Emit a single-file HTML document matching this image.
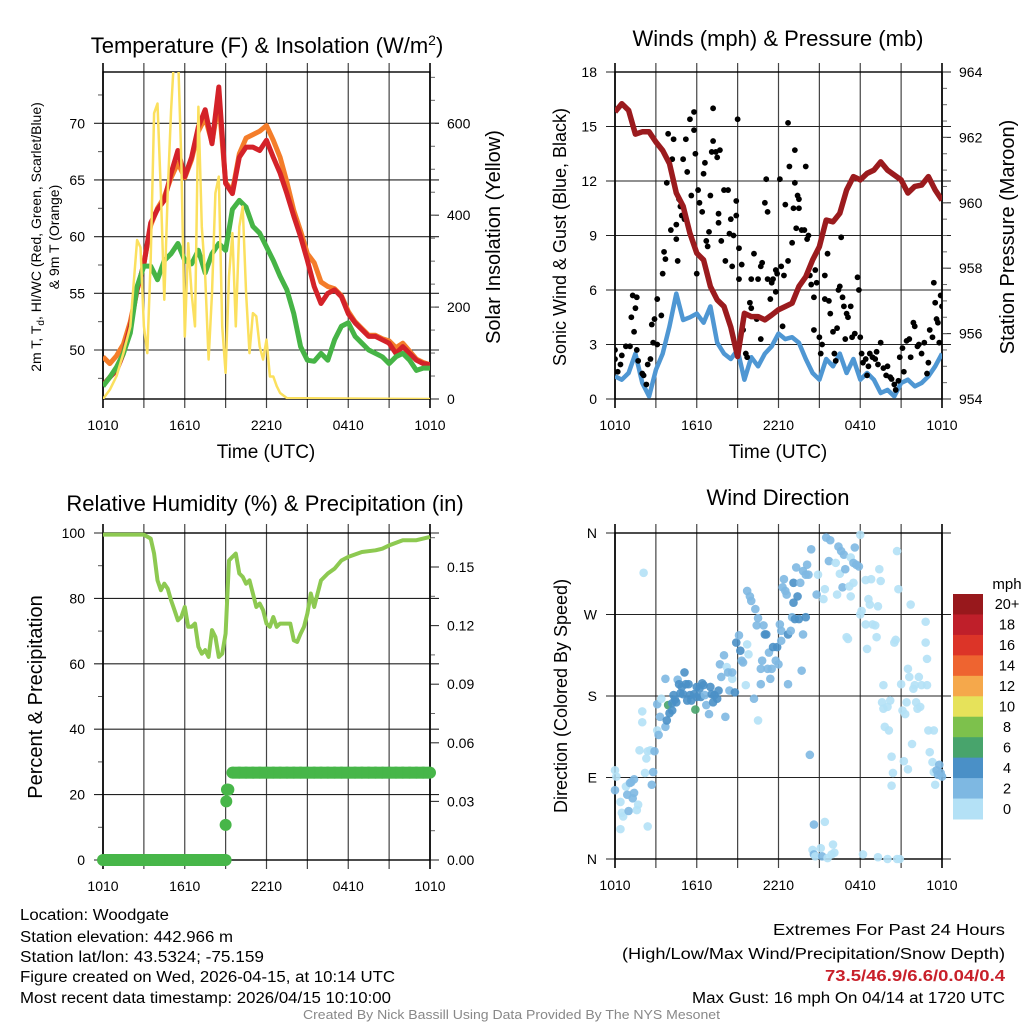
<!DOCTYPE html>
<html><head><meta charset="utf-8"><style>
html,body{margin:0;padding:0;background:#fff;}
svg{display:block;font-family:"Liberation Sans",sans-serif;}
</style></head><body>
<svg id="fig" width="1024" height="1024" viewBox="0 0 1024 1024" xmlns="http://www.w3.org/2000/svg">
<defs>
<clipPath id="c1"><rect x="103" y="72" width="327" height="327"/></clipPath>
<clipPath id="c2"><rect x="615" y="72" width="327" height="327"/></clipPath>
<clipPath id="c3"><rect x="96" y="526" width="341" height="341"/></clipPath>
<clipPath id="c4"><rect x="608" y="526" width="341" height="340"/></clipPath>
</defs>
<rect width="1024" height="1024" fill="#fff"/>
<g id="p1"></g>
<g id="p2"></g>
<g id="p3"></g>
<g id="p4"></g>

<text x="267" y="53" font-size="22" text-anchor="middle">Temperature (F) &amp; Insolation (W/m<tspan dy="-8" font-size="14">2</tspan><tspan dy="8">)</tspan></text>
<text x="778" y="46" font-size="22" text-anchor="middle">Winds (mph) &amp; Pressure (mb)</text>
<text x="265" y="511" font-size="22" text-anchor="middle">Relative Humidity (%) &amp; Precipitation (in)</text>
<text x="778" y="505" font-size="22" text-anchor="middle">Wind Direction</text>

<text x="266" y="458" font-size="19" text-anchor="middle">Time (UTC)</text>
<text x="778" y="458" font-size="19" text-anchor="middle">Time (UTC)</text>

<text transform="translate(41,237) rotate(-90)" font-size="14" text-anchor="middle">2m T, T<tspan font-size="10" dy="3">d</tspan><tspan dy="-3">, HI/WC (Red, Green, Scarlet/Blue)</tspan></text>
<text transform="translate(59,237) rotate(-90)" font-size="14" text-anchor="middle">&amp; 9m T (Orange)</text>
<text transform="translate(500,237) rotate(-90)" font-size="20" text-anchor="middle">Solar Insolation (Yellow)</text>
<text transform="translate(566,237) rotate(-90)" font-size="18" text-anchor="middle">Sonic Wind &amp; Gust (Blue, Black)</text>
<text transform="translate(1014,237) rotate(-90)" font-size="20" text-anchor="middle">Station Pressure (Maroon)</text>
<text transform="translate(42,697) rotate(-90)" font-size="20" text-anchor="middle">Percent &amp; Precipitation</text>
<text transform="translate(567,696) rotate(-90)" font-size="18" text-anchor="middle">Direction (Colored By Speed)</text>

<g id="cbar"></g>
<text x="1007" y="589" font-size="15" text-anchor="middle">mph</text>

<g font-size="15.5">
<text x="20" y="920" textLength="149" lengthAdjust="spacingAndGlyphs">Location: Woodgate</text>
<text x="20" y="942" textLength="213" lengthAdjust="spacingAndGlyphs">Station elevation: 442.966 m</text>
<text x="20" y="962" textLength="244" lengthAdjust="spacingAndGlyphs">Station lat/lon: 43.5324; -75.159</text>
<text x="20" y="982" textLength="375" lengthAdjust="spacingAndGlyphs">Figure created on Wed, 2026-04-15, at 10:14 UTC</text>
<text x="20" y="1003" textLength="371" lengthAdjust="spacingAndGlyphs">Most recent data timestamp: 2026/04/15 10:10:00</text>
</g>
<g font-size="15.5">
<text x="773" y="935" textLength="232" lengthAdjust="spacingAndGlyphs">Extremes For Past 24 Hours</text>
<text x="622" y="959" textLength="383" lengthAdjust="spacingAndGlyphs">(High/Low/Max Wind/Precipitation/Snow Depth)</text>
<text x="825" y="981" textLength="180" lengthAdjust="spacingAndGlyphs" fill="#c8202a" font-weight="bold">73.5/46.9/6.6/0.04/0.4</text>
<text x="692" y="1003" textLength="313" lengthAdjust="spacingAndGlyphs">Max Gust: 16 mph On 04/14 at 1720 UTC</text>
</g>
<text x="303" y="1019" font-size="12.5" fill="#888" textLength="417" lengthAdjust="spacingAndGlyphs">Created By Nick Bassill Using Data Provided By The NYS Mesonet</text>
</svg>
<script>
// ---------- data ----------
const xTicks = [0,3,6,9,12,15,18,21,24];
const xTickLabels = ["1010","","1610","","2210","","0410","","1010"];
const halfHours = [0,0.5,1,1.5,2,2.5,3,3.5,4,4.5,5,5.5,6,6.5,7,7.5,8,8.5,9,9.5,10,10.5,11,11.5,12,12.5,13,13.5,14,14.5,15,15.5,16,16.5,17,17.5,18,18.5,19,19.5,20,20.5,21,21.5,22,22.5,23,23.5,24];
const tempRed = [46.9,47.6,48.2,49.7,52.1,55.3,57.6,61.2,62.4,63.2,65.6,67.6,65.3,67,69.7,71.2,68.2,73.2,64.7,63.8,67,67.9,67.9,67.6,68.5,67,65.6,63.8,61.8,60,57.9,55.6,54.1,55,55.3,54.7,53.2,52.4,51.8,51.2,51.2,50.9,50.6,49.7,50.3,49.7,49.1,48.8,48.7];
const temp9m = [49.4,48.8,49.5,50.5,52.5,55.3,57.6,61,62.5,63.5,65.2,66.5,65.2,66.8,69.3,70.5,68.3,72,64.8,64,67.3,68.7,69,69.3,69.8,68.5,67,64.8,62.3,60.5,58.5,57.7,56,55.6,55.4,54.8,53.4,52.5,51.9,51.3,51.3,51,50.8,50.2,50.6,49.9,49.2,48.9,48.7];
const dewpoint = [46.8,47.6,48.5,49.7,51.5,55.6,57.4,57.4,56.2,57.9,58.5,59.4,57.9,57.6,58.8,56.8,58.5,59.4,58.8,62.4,63.2,62.6,60.9,60.3,59.1,57.9,56.5,55.3,53.2,50.3,49.1,49,49.7,49.1,50.9,52.1,52.4,51.2,50.6,50,49.7,49.4,48.8,49.4,49.7,49.1,48.2,48.4,48.4];
const solarH = [0,0.5,1,1.5,2,2.5,2.75,3,3.25,3.5,3.75,4,4.25,4.5,4.75,5,5.25,5.5,5.75,6,6.25,6.5,6.75,7,7.25,7.5,7.75,8,8.25,8.5,8.75,9,9.25,9.5,9.75,10,10.25,10.5,10.75,11,11.25,11.5,11.75,12,12.25,12.5,12.75,13,13.5,24];
const solarV = [0,20,50,100,158,346,330,158,100,303,622,643,448,216,448,629,760,760,520,136,339,230,158,636,375,267,86,230,448,484,158,57,267,361,158,375,419,230,100,187,180,114,86,129,49,49,28,13,2,0];
const tempTicks = [50,55,60,65,70];
const solarTicks = [0,200,400,600];

const pressure = [962.78,963.03,962.83,962.1,962.17,962.17,961.86,961.6,961.2,960.3,959.9,959.07,958.46,958.25,957.44,957.03,956.83,956.2,955.3,956.62,956.52,956.52,956.42,956.57,956.73,956.83,956.93,957.44,957.74,958.25,958.66,959.47,959.42,959.68,960.39,960.8,960.7,960.9,961.0,961.25,961.0,960.85,960.7,960.3,960.5,960.54,960.8,960.39,960.08];
const windSpeed = [1.25,1.06,1.43,2.5,0.88,0.15,1.6,2.5,4.0,5.8,4.35,4.5,4.7,4.2,5.1,3.1,2.5,2.2,2.7,1.06,2.3,1.8,2.5,2.9,3.6,3.3,3.4,3.1,2.2,1.43,1.06,2.2,1.8,2.5,1.43,2.2,1.06,1.43,1.06,0.33,0.5,0.15,0.88,1.06,0.7,0.88,1.25,1.8,2.5];
const gustH = [0,0,0.2,0.4,0.5,0.8,1.1,1.2,1.3,1.4,1.5,1.6,1.6,1.7,2.0,2.1,2.3,2.4,2.6,2.7,2.8,2.9,3.1,3.1,3.4,3.5,3.6,3.7,3.8,3.9,4.1,4.2,4.3,4.5,4.5,4.6,4.7,4.8,4.9,5.0,5.1,5.2,5.3,5.5,5.6,5.8,5.8,5.9,6.0,6.1,6.2,6.4,6.5,6.6,6.7,6.8,6.9,7.0,7.1,7.2,7.2,7.4,7.5,7.6,7.7,7.6,7.8,8.0,8.1,8.3,8.4,8.5,8.6,8.7,8.9,8.9,9.0,9.1,9.1,9.3,9.4,9.6,9.7,9.9,10.0,10.0,10.2,10.4,10.5,10.7,10.7,10.8,11.0,11.1,11.2,11.2,11.4,11.5,11.6,11.8,11.8,11.9,12.1,12.2,12.3,12.4,12.5,12.7,12.7,12.8,13.0,13.1,13.2,13.2,13.4,13.5,13.5,13.3,13.7,13.9,14.0,14.1,14.2,14.3,14.4,14.6,14.6,14.7,14.8,15.0,15.1,15.2,15.4,15.4,15.6,15.7,15.8,16.0,16.1,16.2,16.3,16.4,16.5,16.6,16.7,16.8,16.9,17.0,17.1,17.3,17.4,17.6,17.8,17.9,18.0,18.1,18.2,18.4,18.5,18.6,18.7,18.9,19.1,19.2,19.3,19.5,19.7,19.9,20.0,20.2,20.3,20.5,20.6,20.8,20.9,21.1,21.2,21.4,21.6,21.7,21.9,22.0,22.2,22.3,22.5,22.7,22.9,23.0,23.1,23.3,23.4,23.5,23.6,23.7,23.8,23.9,24.0];
const gustV = [2.7,2.2,1.5,1.9,2.4,2.9,2.9,4.5,5.7,3.7,5.0,5.6,2.7,2.1,1.4,1.3,0.8,1.9,2.2,4.1,3.1,4.4,3.0,5.5,4.6,6.9,8.1,7.7,11.9,14.6,9.3,13.2,14.3,9.6,8.8,7.6,11.0,10.6,10.1,13.2,9.9,14.3,12.5,15.4,11.2,14.8,15.8,13.5,6.9,11.5,10.8,10.3,12.4,13.0,8.7,8.4,9.2,11.2,13.6,16.0,14.2,13.6,13.3,9.7,13.7,10.2,8.7,11.5,7.6,11.5,9.1,9.9,7.3,9.0,10.9,10.1,15.4,8.3,6.6,7.4,3.8,2.5,2.3,5.3,5.0,6.6,8.0,4.4,6.6,3.3,7.3,7.5,10.8,12.1,10.3,6.6,5.5,6.4,6.6,7.1,5.9,6.9,12.1,7.3,4.0,6.8,10.7,7.6,15.2,12.8,8.6,10.5,13.7,11.9,11.2,10.5,11.0,9.4,9.3,9.3,12.8,8.8,9.0,6.8,6.3,3.8,5.6,7.1,6.4,3.4,2.5,3.0,6.8,5.5,8.0,5.4,4.7,3.7,2.5,2.1,3.9,6.0,6.2,8.9,5.6,5.1,3.3,4.7,4.5,5.1,3.4,3.6,6.7,6.0,3.4,2.5,2.0,2.2,1.3,1.8,2.5,2.3,2.2,2.6,1.9,3.1,1.7,1.3,1.8,1.2,1.1,0.8,0.5,1.0,2.3,2.8,1.5,3.2,3.3,2.3,4.2,4.0,2.9,3.0,2.5,3.1,1.4,2.0,3.8,3.4,6.4,5.3,4.4,4.2,3.1,5.7,5.1];
const windTicks = [0,3,6,9,12,15,18];
const pressTicks = [954,956,958,960,962,964];

const rhH = [0,3,3.5,3.75,4,4.25,4.5,4.75,5,5.25,5.5,5.75,6,6.25,6.5,6.75,7,7.25,7.5,7.75,8,8.25,8.5,8.75,9,9.25,9.5,9.75,10,10.25,10.5,10.75,11,11.25,11.5,11.75,12,12.25,12.5,12.75,13,13.5,13.75,14,14.25,14.5,14.75,15,15.25,15.5,15.75,16,16.5,17,17.5,18,19,20,20.5,21,22,23,24];
const rhV = [99.5,99.5,98.3,93.7,85.5,82.5,84.5,83,79.4,76.4,73.3,74.3,77.4,71.3,71.3,72.3,65.2,63.1,64.2,62.1,70.3,68.2,62.1,63.1,69.2,91.6,92.7,93.7,87.6,86.6,84.5,85.5,81.5,77.4,78.4,76.4,72.3,71.3,74.3,71.3,72.3,72.3,72.3,67.2,66.7,69.2,71.3,75.4,81.5,77.4,81.5,85.5,87.6,89.1,91.6,92.7,94.2,94.7,95.2,96.2,97.8,97.8,98.8];
const precipH = [0,0.5,1,1.5,2,2.5,3,3.5,4,4.5,5,5.5,6,6.5,7,7.5,8,8.5,9,9.0,9.05,9.1,9.2,9.5,10,10.5,11,11.5,12,12.5,13,13.5,14,14.5,15,15.5,16,16.5,17,17.5,18,18.5,19,19.5,20,20.5,21,21.5,22,22.5,23,23.5,24];
const precipV = [0,0,0,0,0,0,0,0,0,0,0,0,0,0,0,0,0,0,0,0.018,0.030,0.036,0.036,0.0447,0.0447,0.0447,0.0447,0.0447,0.0447,0.0447,0.0447,0.0447,0.0447,0.0447,0.0447,0.0447,0.0447,0.0447,0.0447,0.0447,0.0447,0.0447,0.0447,0.0447,0.0447,0.0447,0.0447,0.0447,0.0447,0.0447,0.0447,0.0447,0.0447];
const rhTicks = [0,20,40,60,80,100];
const precipTicks = [0,0.03,0.06,0.09,0.12,0.15];
const precipTickLabels = ["0.00","0.03","0.06","0.09","0.12","0.15"];

const dirH = [0,0.1,0,0.4,0.5,0.6,0.4,0.8,0.9,1.0,1.1,1.2,1.4,1.4,1.3,1.7,1.6,1.8,2.0,2.0,2.1,2.3,2.4,2.4,2.2,2.6,2.7,2.8,2.9,3.1,3.2,3.3,3.1,3.4,3.7,3.8,3.9,4.0,4.2,4.2,4.3,3.7,4.4,4.5,4.6,4.7,4.8,4.9,5.0,5.1,5.2,5.3,5.4,5.5,5.6,5.8,5.9,6.0,6.0,6.2,6.3,6.4,6.5,6.6,6.7,6.9,7.0,7.1,7.2,7.3,7.5,7.6,7.7,7.8,8.0,8.1,8.2,8.3,8.4,8.6,8.6,8.8,8.9,9.1,9.2,9.3,9.4,9.6,9.7,9.8,9.7,9.9,10.0,10.2,10.3,10.4,10.5,10.5,10.7,10.7,10.8,10.9,11.0,11.1,11.2,11.3,11.4,11.5,11.6,11.8,11.9,12.0,12.1,12.2,12.2,12.4,12.3,12.5,12.6,12.7,12.7,12.9,13.0,13.1,13.1,13.2,13.3,13.4,13.5,13.6,13.7,13.8,13.8,14.0,14.1,14.0,14.2,14.3,14.4,14.5,14.6,14.6,14.7,14.8,14.9,15.1,15.2,15.3,15.4,15.4,15.5,15.6,15.7,15.8,15.9,16.0,16.1,16.2,16.3,16.4,16.5,16.6,16.7,16.8,16.9,17.0,17.1,17.2,17.3,17.3,17.5,17.5,17.6,17.7,17.9,18.0,18.0,18.1,18.2,18.4,18.4,18.5,18.6,18.7,18.8,18.9,19.1,19.2,19.3,19.3,19.4,19.5,19.7,19.6,19.7,19.8,20.0,20.0,20.1,20.2,20.3,20.3,20.4,20.5,20.6,20.7,20.7,20.8,20.9,21.0,21.1,21.2,21.3,21.4,21.5,21.5,21.6,21.7,21.8,21.9,22.0,22.1,22.2,22.3,22.4,22.5,22.8,22.8,22.9,22.9,23.0,23.1,23.3,23.4,23.4,23.5,23.6,23.7,23.8,23.9,24.0];
const dirDeg = [98,91,76,63,51,47,33,80,71,53,84,85,88,73,67,60,54,120,151,163,316,111,119,36,95,120,82,96,119,142,137,157,171,177,146,153,170,161,164,172,181,199,176,173,198,193,183,190,182,206,193,175,193,181,175,182,165,190,179,188,179,194,192,181,170,160,190,182,173,181,177,186,215,201,225,157,212,206,186,199,206,184,239,247,230,219,217,192,237,226,296,290,285,177,276,258,266,153,193,210,219,258,248,248,210,228,199,210,234,219,234,215,259,241,252,309,300,296,292,193,248,252,267,305,283,265,322,290,265,305,208,248,318,314,325,267,314,115,342,10,38,5,3,292,314,12,3,287,41,298,355,1,329,352,5,16,7,327,292,345,315,340,300,336,320,245,243,301,290,333,305,327,344,325,323,358,270,274,5,308,259,232,287,281,309,259,258,245,279,2,320,307,192,173,166,146,168,0,142,175,113,81,95,239,242,340,0,298,0,193,164,108,160,173,99,210,201,281,127,188,192,173,166,201,168,192,262,239,221,192,142,118,107,142,96,82,98,93,104,95,91];
const dirSpd = [1,1,3,1,1,1,1,1,3,3,3,3,3,3,3,1,1,1,1,1,1,1,1,1,1,1,3,3,3,1,3,3,3,1,3,5,7,5,5,5,5,3,5,5,3,5,5,5,5,5,5,5,5,5,5,5,7,5,5,5,5,5,5,3,3,3,5,5,5,5,5,5,3,3,3,3,1,3,3,1,3,5,5,3,5,3,3,1,1,1,3,3,3,3,3,3,3,1,3,3,3,3,5,5,3,3,3,3,5,3,5,3,3,3,3,3,3,3,3,3,5,3,3,5,5,5,3,5,5,3,3,3,3,3,3,5,3,3,3,1,3,3,1,3,1,1,3,1,1,1,3,1,3,3,1,1,1,1,1,3,1,3,3,3,3,1,1,1,1,1,1,3,3,3,3,1,1,1,1,1,1,1,1,1,1,1,1,1,1,1,1,1,1,1,1,1,1,1,1,1,1,1,1,1,1,1,1,1,1,1,1,1,1,1,1,1,1,1,1,1,1,1,1,1,1,1,1,1,1,1,1,1,1,1,1,1,3,3,3,3,3,3,3,3];
const dirTicks = [0,90,180,270,360];
const dirTickLabels = ["N","E","S","W","N"];
const cbarLabels = ["20+","18","16","14","12","10","8","6","4","2","0"];
const cbarColors = ["#98181c","#bf1f2a","#dc3428","#ee6430","#f5a84b","#e6e25a","#7dc14c","#48a46c","#4a90c7","#7eb8e2","#b4e1f6"];

// ---------- helpers ----------
const NS = "http://www.w3.org/2000/svg";
function add(parent, tag, attrs, name) {
  const el = document.createElementNS(NS, tag);
  for (const k in attrs) el.setAttribute(k, attrs[k]);
  
  
  parent.appendChild(el);
  return el;
}
function lin(d0, d1, r0, r1) { return v => r0 + (v - d0) / (d1 - d0) * (r1 - r0); }

function frame(g, X0, X1, Y0, Y1, xs, ysL, ticksL, labelsL, ysR, ticksR, labelsR, minorL, minorR) {
  xTicks.forEach((t, i) => {
    const x = xs(t);
    add(g, 'line', {x1:x, x2:x, y1:Y0-9, y2:Y1+9, stroke:(i===0||i===8)?'#000':'#444', 'stroke-width':(i===0||i===8)?1.6:1.2}, 'x-gridline');
    if (xTickLabels[i]) {
      const tx = add(g, 'text', {x:x, y:Y1+31, 'font-size':14, 'text-anchor':'middle'}, 'x-tick-label');
      tx.textContent = xTickLabels[i];
    }
  });
  ticksL.forEach((t, i) => {
    const y = ysL(t);
    add(g, 'line', {x1:X0-9, x2:X1+9, y1:y, y2:y, stroke:'#222', 'stroke-width':1.1}, 'y-gridline');
    const tx = add(g, 'text', {x:X0-18, y:y+5, 'font-size':14, 'text-anchor':'end'}, 'left-tick-label');
    tx.textContent = labelsL[i];
  });
  minorL.forEach(t => { const y = ysL(t); add(g, 'line', {x1:X0-5, x2:X0, y1:y, y2:y, stroke:'#555'}, 'left-minor-tick'); });
  if (ysR) {
    ticksR.forEach((t, i) => {
      const y = ysR(t);
      add(g, 'line', {x1:X1, x2:X1+9, y1:y, y2:y, stroke:'#333', 'stroke-width':1.1}, 'right-major-tick');
      const tx = add(g, 'text', {x:X1+17, y:y+5, 'font-size':14, 'text-anchor':'start'}, 'right-tick-label');
      tx.textContent = labelsR[i];
    });
    minorR.forEach(t => { const y = ysR(t); add(g, 'line', {x1:X1, x2:X1+5, y1:y, y2:y, stroke:'#666'}, 'right-minor-tick'); });
  }
  add(g, 'rect', {x:X0, y:Y0, width:X1-X0, height:Y1-Y0, fill:'none', stroke:'#000', 'stroke-width':1.4}, 'plot-frame');
}
function pathD(xs, ys, H, V) { return H.map((h, i) => (i ? 'L' : 'M') + xs(h).toFixed(1) + ',' + ys(V[i]).toFixed(1)).join(''); }
function range(a, b, s) { const r = []; for (let v = a; v <= b + 1e-9; v += s) r.push(+v.toFixed(4)); return r; }

// ---------- panel 1 ----------
(function(){
  const g = document.getElementById('p1');
  const xs = lin(0, 24, 103, 430);
  const yT = lin(50, 70, 350, 123.3);
  const yS = lin(0, 600, 399, 123.3);
  frame(g, 103, 430, 72, 399, xs, yT, tempTicks, tempTicks.map(String), yS, solarTicks, solarTicks.map(String), range(47.5, 72.5, 5), range(50, 700, 50));
  const c = add(g, 'g', {'clip-path':'url(#c1)'}, 'temperature-series');
  add(c, 'path', {d:pathD(xs, yT, halfHours, temp9m), fill:'none', stroke:'#f47d2a', 'stroke-width':5, 'stroke-linejoin':'round'}, 'temp-9m-line');
  add(c, 'path', {d:pathD(xs, yT, halfHours, tempRed), fill:'none', stroke:'#d42229', 'stroke-width':5, 'stroke-linejoin':'round'}, 'temp-2m-line');
  add(c, 'path', {d:pathD(xs, yT, halfHours, dewpoint), fill:'none', stroke:'#46b446', 'stroke-width':5, 'stroke-linejoin':'round'}, 'dewpoint-line');
  add(c, 'path', {d:pathD(xs, yS, solarH, solarV), fill:'none', stroke:'#fbe05e', 'stroke-width':2.5, 'stroke-linejoin':'round'}, 'solar-line');
})();

// ---------- panel 2 ----------
(function(){
  const g = document.getElementById('p2');
  const xs = lin(0, 24, 615, 942);
  const yW = lin(0, 18, 399, 72);
  const yP = lin(954, 964, 399, 72);
  frame(g, 615, 942, 72, 399, xs, yW, windTicks, windTicks.map(String), yP, pressTicks, pressTicks.map(String), [], range(954.5, 963.5, 0.5));
  const c = add(g, 'g', {'clip-path':'url(#c2)'}, 'wind-series');
  add(c, 'path', {d:pathD(xs, yW, halfHours, windSpeed), fill:'none', stroke:'#4f97d3', 'stroke-width':4.5, 'stroke-linejoin':'round'}, 'wind-speed-line');
  gustH.forEach((h, i) => {
    add(c, 'circle', {cx:xs(h), cy:yW(gustV[i]), r:2.9, fill:'#000'}, 'gust-point');
  });
  add(c, 'path', {d:pathD(xs, yP, halfHours, pressure), fill:'none', stroke:'#9b1b1e', 'stroke-width':5.5, 'stroke-linejoin':'round'}, 'pressure-line');
})();

// ---------- panel 3 ----------
(function(){
  const g = document.getElementById('p3');
  const xs = lin(0, 24, 103, 430);
  const yR = lin(0, 100, 860, 533);
  const yPr = lin(0, 0.15, 860, 567);
  frame(g, 103, 430, 533, 860, xs, yR, rhTicks, rhTicks.map(String), yPr, precipTicks, precipTickLabels, range(10, 90, 20), range(0.015, 0.165, 0.03));
  const c = add(g, 'g', {'clip-path':'url(#c3)'}, 'humidity-series');
  add(c, 'path', {d:pathD(xs, yR, rhH, rhV), fill:'none', stroke:'#8dc951', 'stroke-width':4, 'stroke-linejoin':'round'}, 'humidity-line');
  precipH.forEach((h, i) => {
    if (i > 0 && precipV[i] === precipV[i-1]) {
      add(c, 'line', {x1:xs(precipH[i-1]), x2:xs(h), y1:yPr(precipV[i]), y2:yPr(precipV[i]), stroke:'#47b649', 'stroke-width':12}, 'precip-segment');
    }
    add(c, 'circle', {cx:xs(h), cy:yPr(precipV[i]), r:6, fill:'#47b649'}, 'precip-point');
  });
})();

// ---------- panel 4 ----------
(function(){
  const g = document.getElementById('p4');
  const xs = lin(0, 24, 615, 942);
  const yD = lin(0, 360, 859, 533);
  frame(g, 615, 942, 533, 859, xs, yD, dirTicks, dirTickLabels, null, [], [], [], []);
  const spdColor = s => cbarColors[10 - Math.min(10, Math.floor(s / 2))];
  const c = add(g, 'g', {'clip-path':'url(#c4)'}, 'direction-series');
  dirH.forEach((h, i) => {
    add(c, 'circle', {cx:xs(h), cy:yD(dirDeg[i]), r:4.3, fill:spdColor(dirSpd[i]), 'fill-opacity':0.9}, 'direction-point');
  });
  const cb = document.getElementById('cbar');
  const yC = lin(0, 11, 594, 819);
  cbarColors.forEach((col, i) => {
    add(cb, 'rect', {x:953, y:yC(i), width:30, height:yC(1)-yC(0)+0.5, fill:col}, 'colorbar-swatch');
    const tx = add(cb, 'text', {x:1007, y:yC(i + 0.5) + 5, 'font-size':14.5, 'text-anchor':'middle'}, 'colorbar-label');
    tx.textContent = cbarLabels[i];
  });
})();
</script>
</body></html>
